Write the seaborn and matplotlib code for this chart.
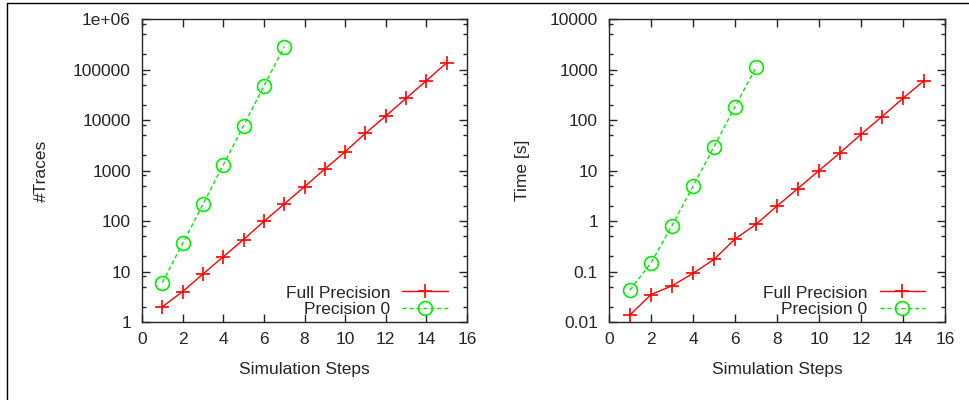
import numpy as np
import pandas as pd
import matplotlib
matplotlib.use('Agg')
import matplotlib.pyplot as plt
import seaborn as sns
from matplotlib.lines import Line2D
from matplotlib.ticker import LogLocator, FixedLocator, NullFormatter

# datos
steps_full = list(range(1, 16))
steps_p0 = list(range(1, 8))

traces_full = [2.0, 4.0, 8.9, 19.6, 43, 98, 217, 478, 1070, 2350, 5450, 12000, 26900, 60000, 136000]
traces_p0 = [6.0, 36, 214, 1290, 7700, 47000, 283000]

time_full = [0.0138, 0.035, 0.052, 0.092, 0.174, 0.44, 0.86, 1.98, 4.4, 10, 22.4, 52, 117, 269, 600]
time_p0 = [0.043, 0.148, 0.81, 4.9, 29.6, 183, 1100]

labels = ['Full Precision', 'Precision 0']
yt_traces = ['1', '10', '100', '1000', '10000', '100000', '1e+06']
yt_time = ['0.01', '0.1', '1', '10', '100', '1000', '10000']

sns.set_style('ticks')
plt.rcParams['font.family'] = ['Liberation Sans', 'DejaVu Sans']
plt.rcParams['font.size'] = 12.5

fig = plt.figure(figsize=(9.69, 4), dpi=100)
ax1 = fig.add_axes([142/969, 78/400, 325/969, 303/400])
ax2 = fig.add_axes([609/969, 78/400, 336/969, 303/400])


def dibujar(ax, yfull, yp0, ylim, yticklabels, ylabel, ylabelpad):
    df_full = pd.DataFrame({'x': steps_full, 'y': yfull})
    df_p0 = pd.DataFrame({'x': steps_p0, 'y': yp0})
    sns.lineplot(data=df_full, x='x', y='y', ax=ax, color='#ff0000', lw=1,
                 marker='+', markersize=10, markeredgewidth=1.2,
                 markeredgecolor='#ff0000', label=labels[0])
    sns.lineplot(data=df_p0, x='x', y='y', ax=ax, color='#00ee00', lw=1,
                 linestyle=(0, (3, 2)), marker='o', markersize=10,
                 markerfacecolor='none', markeredgecolor='#00ee00',
                 markeredgewidth=1.2, label=labels[1])
    ax.set_yscale('log')
    ax.set_xlim(0, 16)
    ax.set_ylim(*ylim)
    ax.set_xticks(range(0, 17, 2))
    majors = [ylim[0] * 10**i for i in range(7)]
    ax.yaxis.set_major_locator(FixedLocator(majors))
    ax.set_yticklabels(yticklabels)
    ax.yaxis.set_minor_locator(LogLocator(base=10, subs=[2, 5, 8]))
    ax.yaxis.set_minor_formatter(NullFormatter())
    ax.tick_params(which='both', direction='in', top=True, right=True, width=1)
    ax.tick_params(which='major', length=6)
    ax.tick_params(axis='y', which='major', pad=8)
    ax.tick_params(axis='x', which='major', pad=7)
    ax.tick_params(which='minor', length=3)
    for s in ax.spines.values():
        s.set_linewidth(1)
        s.set_visible(True)
    ax.set_xlabel('Simulation Steps', labelpad=11)
    ax.set_ylabel(ylabel, labelpad=ylabelpad)
    ax.legend(loc='lower right', bbox_to_anchor=(0.94, 0.015), frameon=False,
              markerfirst=False, handlelength=2.6, borderaxespad=0, borderpad=0,
              labelspacing=0.1, handletextpad=0.7)


dibujar(ax1, traces_full, traces_p0, (1, 1e6), yt_traces, '#Traces', 17)
dibujar(ax2, time_full, time_p0, (0.01, 1e4), yt_time, 'Time [s]', 14)

# marco recortado de la figura original
fig.add_artist(Line2D([7/969, 7/969], [0, 397.5/400], color='black', lw=1))
fig.add_artist(Line2D([7/969, 1], [397.5/400, 397.5/400], color='black', lw=1))

plt.savefig('out.png', dpi=100)
